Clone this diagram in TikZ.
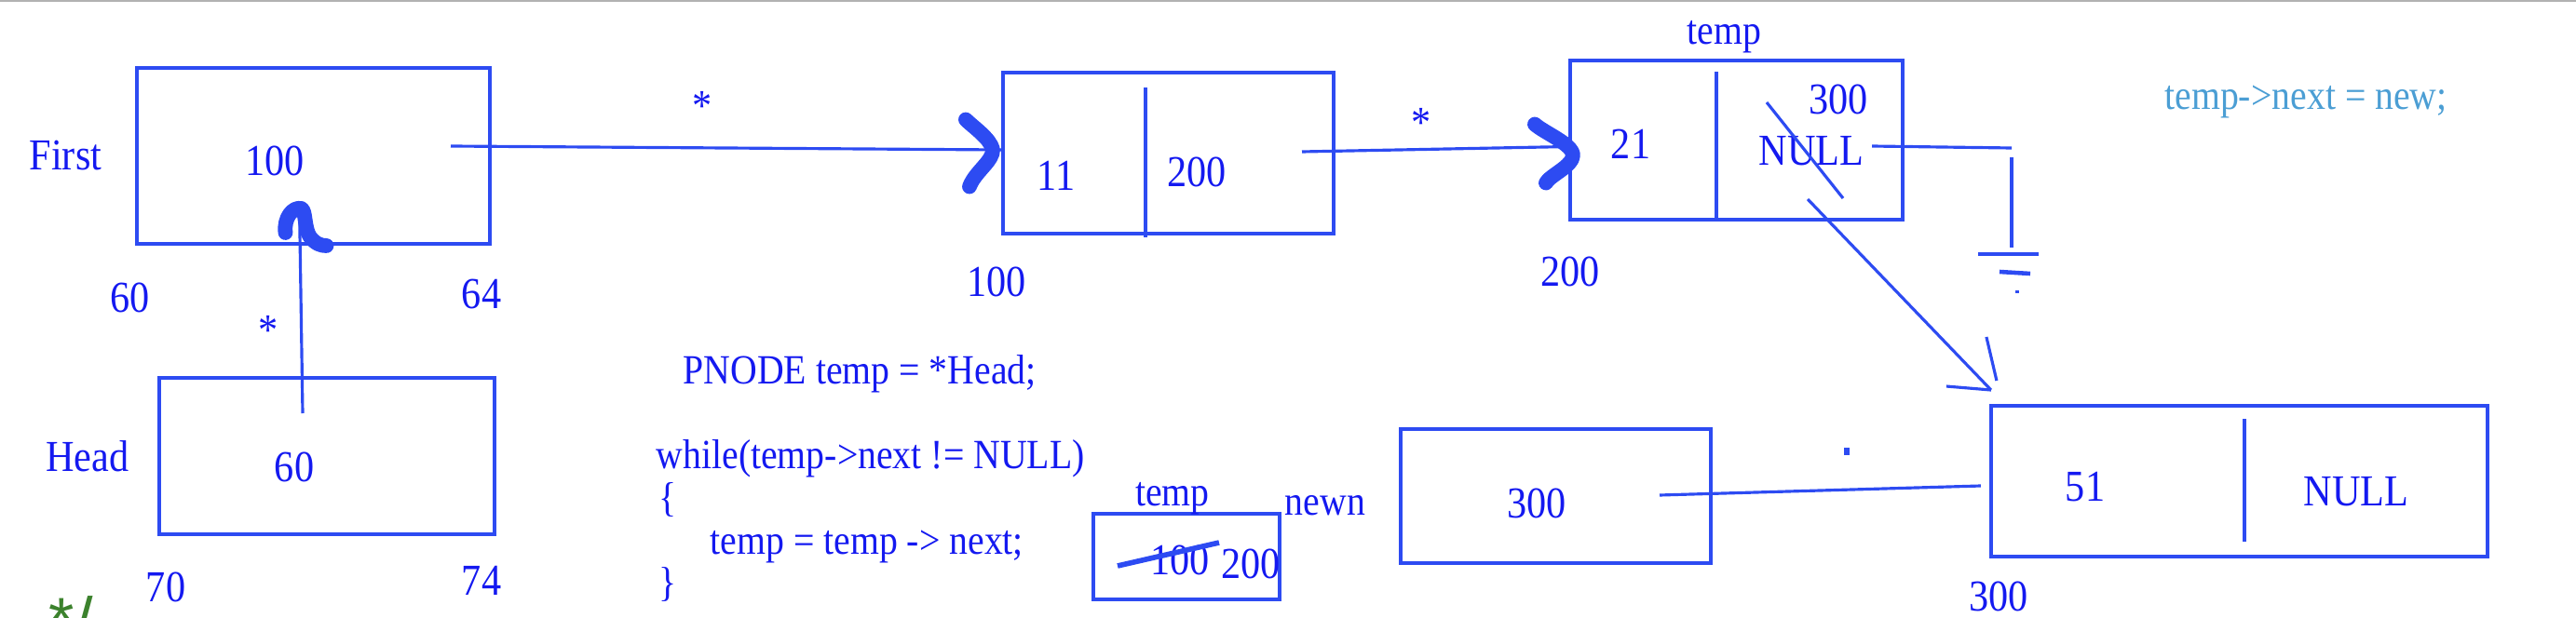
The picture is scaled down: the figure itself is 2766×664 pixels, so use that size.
\documentclass[tikz,border=0pt]{standalone}
\usepackage{fontspec}
\setmainfont[FakeStretch=0.89]{Liberation Serif}
\setsansfont{Liberation Sans}
\usepackage{tikz}
\usetikzlibrary{positioning}

\definecolor{txtblue}{RGB}{20,25,240}
\definecolor{boxblue}{RGB}{45,75,242}
\definecolor{noteblue}{RGB}{75,158,212}
\definecolor{cmtgreen}{RGB}{60,130,45}

\tikzset{
  cell/.style={draw=boxblue, line width=1.1pt, inner sep=0pt},
  lbl/.style={text=txtblue, inner sep=0pt, font=\fontsize{13.5}{15}\selectfont},
  tag/.style={lbl, font=\fontsize{12.7}{14}\selectfont},
  code/.style={tag, anchor=base west},
  link/.style={draw=boxblue, line width=0.9pt},
  handtip/.style={draw=boxblue, line width=4.5pt, line cap=round, line join=round},
}

\begin{document}
\begin{tikzpicture}[x=0.01cm, y=-0.01cm]
\useasboundingbox (0,0) rectangle (2766,664);
\draw[gray!60, line width=0.5pt] (0,1) -- (2766,1);

\node[cell, minimum width=3.79cm, minimum height=1.89cm] (first) at (336.5,167.5) {};
\node[lbl] (firstval) at (295,173) {100};
\node[lbl, left=0.35cm of first] (firstlbl) {First};
\node[lbl] (firstlo) at (140,320) {60};
\node[lbl] (firsthi) at (517,316) {64};

\node[cell, minimum width=3.60cm, minimum height=1.68cm] (head) at (351,490) {};
\node[lbl] (headval) at (316,502) {60};
\node[lbl, left=0.30cm of head] (headlbl) {Head};
\node[lbl] (headlo) at (178,631) {70};
\node[lbl] (headhi) at (517,624) {74};
\node[lbl] (headstar) at (288,355) {*};

\node[cell, minimum width=3.55cm, minimum height=1.73cm] (n100) at (1254.5,164.5) {};
\draw[link] ([shift={(155,18)}]n100.north west) -- ++(0,161);
\node[lbl] (n100a) at (1134,189) {11};
\node[lbl] (n100b) at (1285,185) {200};
\node[lbl] (n100addr) at (1070,303) {100};
\node[lbl] (firststar) at (754,114) {*};

\node[cell, minimum width=3.57cm, minimum height=1.71cm] (n200) at (1864.5,150.5) {};
\draw[link] ([shift={(159,14)}]n200.north west) -- ++(0,157);
\node[lbl] (n200a) at (1751,155) {21};
\node[lbl] (n200b) at (1945,162) {NULL};
\node[lbl] (n200c) at (1974,107) {300};
\node[tag, above=0.05cm of n200, xshift=-0.13cm] (n200tag) {temp};
\node[lbl] (n200addr) at (1686,292) {200};
\node[lbl] (n100star) at (1526,132) {*};
\draw[link] ([shift={(-48,-52)}]n200b.center) -- ([shift={(34,51)}]n200b.center);

\node[cell, minimum width=5.33cm, minimum height=1.62cm] (n300) at (2404.5,517) {};
\draw[link] ([shift={(274,16)}]n300.north west) -- ++(0,132);
\node[lbl] (n300a) at (2239,523) {51};
\node[lbl] (n300b) at (2530,528) {NULL};
\node[lbl] (n300addr) at (2146,641) {300};

\node[cell, minimum width=3.33cm, minimum height=1.44cm] (newn) at (1670.5,533) {};
\node[lbl] (newnval) at (1650,541) {300};
\node[tag] (newnlbl) at (1423,543) {newn};

\node[cell, minimum width=2.00cm, minimum height=0.92cm] (tempbox) at (1274,598) {};
\node[tag] (temptag) at (1259,536) {temp};
\node[lbl] (tempold) at (1267,602) {100};
\node[lbl] (tempnew) at (1343,606) {200};
\draw[link, line width=1.6pt] ([shift={(-67,6)}]tempold.center) -- ([shift={(42,-19)}]tempold.center);

\node[code] (code1) at (733,412) {PNODE temp = *Head;};
\node[code] (code2) at (704,503) {while(temp->next != NULL)};
\node[code] (code3) at (707,549) {\{};
\node[code] (code4) at (762,595) {temp = temp -> next;};
\node[code] (code5) at (707,640) {\}};

\node[tag, text=noteblue] (note) at (2476,109) {temp->next = new;};
\node[anchor=base west, inner sep=0pt, text=cmtgreen, font=\sffamily\fontsize{20}{22}\selectfont] (cmt) at (52,691) {*/};

\coordinate (firstptr) at (484,157);
\draw[link] (firstptr) -- ([yshift=0.035cm]n100.west);
\draw[handtip, shift={(n100.west)}] (-38,-36) .. controls (-30,-28) and (-12,-16) .. (-9,-4)
  .. controls (-8,8) and (-28,20) .. (-34,36);

\coordinate (n100ptr) at (1398,163);
\draw[link] (n100ptr) -- ([yshift=-0.07cm]n200.west);
\draw[handtip, shift={(n200.west)}] (-36,-17) .. controls (-26,-8) and (4,4) .. (5,16)
  .. controls (5,28) and (-20,38) .. (-24,46);

\coordinate (headptr) at (325,444);
\draw[link] (headptr) -- ([shift={(-15,-45)}]first.south);
\draw[handtip, shift={(first.south)}] (-30,-14) .. controls (-32,-30) and (-22,-42) .. (-13,-40)
  .. controls (-8,-38) and (-10,-20) .. (-4,-10) .. controls (2,-2) and (8,0) .. (14,0);

\coordinate (nullptr) at (1941,214);
\draw[link] (nullptr) -- ([shift={(2,-15)}]n300.north west) coordinate (nulltip);
\draw[link] ([shift={(-48,-4)}]nulltip) -- (nulltip);
\draw[link] ([shift={(-5,-57)}]nulltip) -- ([shift={(6,-10)}]nulltip);

\coordinate (nullnext) at (2010,157);
\coordinate (gndtop) at (2160,159);
\coordinate (gnd) at (2160,273);
\draw[link] (nullnext) -- (gndtop);
\draw[link] ([yshift=-0.1cm]gndtop) -- ([yshift=0.07cm]gnd);
\draw[link, line width=1.3pt] ([xshift=-0.36cm]gnd) -- ([xshift=0.29cm]gnd);
\draw[link, line width=1.3pt] ([shift={(-13,19)}]gnd) -- ([shift={(20,21)}]gnd);
\draw[link] ([shift={(6,39)}]gnd) -- ([shift={(6,42)}]gnd);

\coordinate (newnptr) at (1782,532);
\draw[link] (newnptr) -- ([shift={(-9,5)}]n300.west);
\draw[link, line width=1.5pt] (1983,481) -- (1983,489);

\end{tikzpicture}
\end{document}
